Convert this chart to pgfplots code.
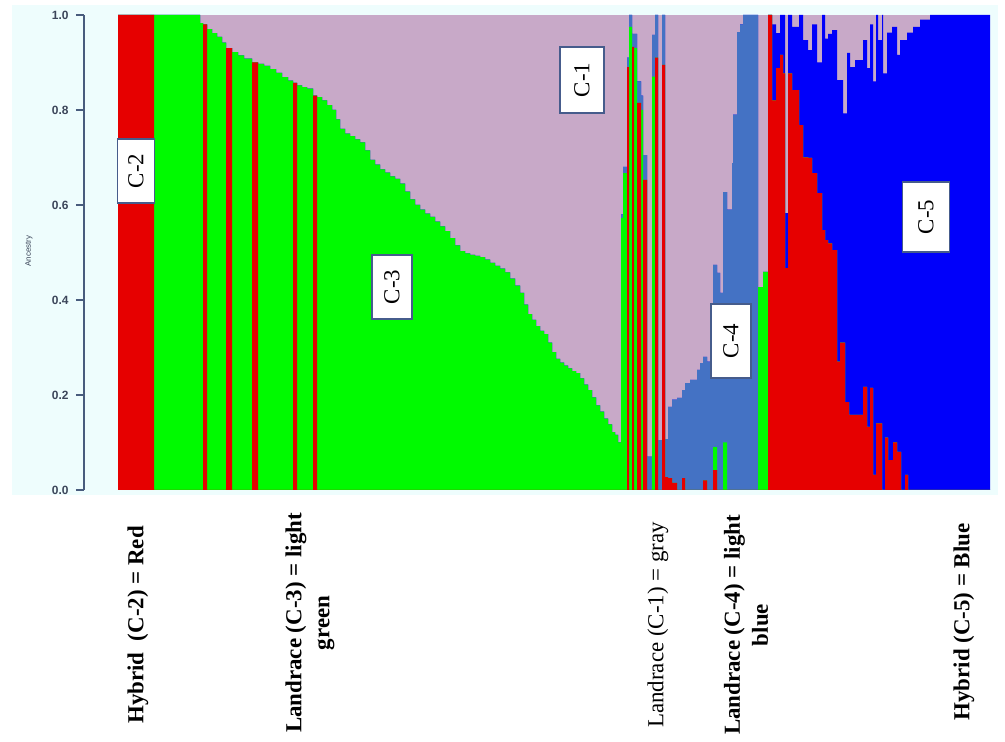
\documentclass[border=0pt]{standalone}
\usepackage{fontspec}
\setmainfont{Liberation Serif}
\newfontfamily\arial{Liberation Sans}
\usepackage{pgfplots}
\usepackage{pgfplotstable}
\pgfplotsset{compat=1.18}
\definecolor{cred}{RGB}{230,0,0}
\definecolor{cgreen}{RGB}{0,250,0}
\definecolor{cgray}{RGB}{200,169,200}
\definecolor{csteel}{RGB}{68,114,196}
\definecolor{cblue}{RGB}{0,0,250}
\definecolor{bgcyan}{RGB}{238,253,253}
\definecolor{axcol}{RGB}{72,92,125}
\definecolor{tickcol}{RGB}{60,70,90}
\definecolor{boxcol}{RGB}{70,92,140}

\pgfplotstableread{
x r g s b
118 1 0 0 0
154 0 1 0 0
200 0 0.983 0 0
203 0.98 0 0 0
207 0 0.97 0 0
212 0 0.962 0 0
217 0 0.954 0 0
222 0 0.942 0 0
226 0.93 0 0 0
232 0 0.922 0 0
238 0 0.915 0 0
244 0 0.908 0 0
252 0.90 0 0 0
258 0 0.897 0 0
264 0 0.893 0 0
270 0 0.886 0 0
276 0 0.878 0 0
282 0 0.869 0 0
288 0 0.862 0 0
293 0.857 0 0 0
297 0 0.852 0 0
302 0 0.848 0 0
307 0 0.845 0 0
313 0.83 0 0 0
317 0 0.827 0 0
322 0 0.82 0 0
327 0 0.81 0 0
332 0 0.80 0 0
336 0 0.78 0 0
340 0 0.76 0 0
345 0 0.75 0 0
350 0 0.745 0 0
355 0 0.738 0 0
360 0 0.732 0 0
365 0 0.715 0 0
370 0 0.695 0 0
375 0 0.685 0 0
380 0 0.675 0 0
385 0 0.668 0 0
390 0 0.66 0 0
395 0 0.655 0 0
400 0 0.645 0 0
405 0 0.628 0 0
410 0 0.612 0 0
415 0 0.60 0 0
420 0 0.59 0 0
425 0 0.582 0 0
430 0 0.575 0 0
435 0 0.565 0 0
440 0 0.555 0 0
445 0 0.545 0 0
450 0 0.53 0 0
455 0 0.515 0 0
460 0 0.503 0 0
465 0 0.498 0 0
470 0 0.495 0 0
475 0 0.493 0 0
480 0 0.49 0 0
485 0 0.485 0 0
490 0 0.478 0 0
495 0 0.472 0 0
500 0 0.466 0 0
505 0 0.458 0 0
510 0 0.445 0 0
515 0 0.43 0 0
520 0 0.415 0 0
524 0 0.39 0 0
528 0 0.37 0 0
532 0 0.358 0 0
536 0 0.345 0 0
540 0 0.335 0 0
544 0 0.328 0 0
548 0 0.31 0 0
552 0 0.29 0 0
556 0 0.276 0 0
560 0 0.268 0 0
564 0 0.262 0 0
568 0 0.256 0 0
572 0 0.25 0 0
576 0 0.246 0 0
580 0 0.235 0 0
584 0 0.222 0 0
588 0 0.21 0 0
592 0 0.195 0 0
596 0 0.178 0 0
600 0 0.165 0 0
604 0 0.15 0 0
608 0 0.138 0 0
612 0 0.122 0 0
615 0 0.116 0 0
618 0 0.10 0 0
621 0 0.573 0.007 0
623 0 0.667 0.013 0
627 0.89 0 0.02 0
629 0 0.975 0.025 0
632 0.933 0 0.027 0
634 0 0.93 0.03 0
637 0.815 0 0.045 0
641 0 0.80 0.03 0
643 0.653 0 0.052 0
647 0 0 0.07 0
652 0 0.87 0.088 0
655 0.91 0 0.09 0
658 0 0 0.105 0
662 0.895 0 0.105 0
665 0.027 0 0.08 0
668 0.025 0 0.15 0
672 0.015 0 0.175 0
677 0 0 0.194 0
682 0.025 0 0.185 0
685 0 0 0.225 0
690 0 0 0.232 0
697 0 0 0.253 0
700 0 0 0.267 0
703 0.02 0 0.26 0
707 0 0 0.27 0
710 0 0 0.28 0
713 0.042 0.048 0.384 0
717 0 0 0.457 0
720 0 0 0.415 0
723 0 0.1 0.527 0
727 0 0 0.59 0
732 0 0 0.688 0
733 0 0 0.79 0
737 0 0 0.964 0
740 0 0 0.98 0
743 0 0 1 0
758 0 0.427 0 0
763 0 0.459 0 0
768 1 0 0 0
772 0.82 0 0 0.16
776 0.888 0 0 0.074
780 0.916 0 0 0.084
783 0.877 0 0 0.123
785 0.467 0 0 0.116
788 0.877 0 0 0.123
792 0.842 0 0 0.133
799 0.768 0 0 0.232
803 0.70 0 0 0.247
808 0.699 0 0 0.227
812 0.667 0 0 0.313
817 0.625 0 0 0.275
822 0.547 0 0 0.453
825 0.526 0 0 0.424
828 0.519 0 0 0.441
832 0.505 0 0 0.463
837 0.27 0 0 0.593
840 0.31 0 0 0.553
843 0.31 0 0 0.483
845 0.185 0 0 0.608
847 0.185 0 0 0.735
849 0.158 0 0 0.762
850 0.158 0 0 0.732
855 0.158 0 0 0.747
863 0.217 0 0 0.73
867 0.133 0 0 0.755
870 0.215 0 0 0.765
873 0.032 0 0 0.828
876 0.14 0 0 0.86
878 0.14 0 0 0.807
882 0 0 0 1
883 0 0 0 0.877
885 0.11 0 0 0.767
887 0.11 0 0 0.853
888 0.063 0 0 0.9
892 0.063 0 0 0.912
893 0.1 0 0 0.875
897 0.08 0 0 0.836
900 0.08 0 0 0.867
901 0 0 0 0.947
905 0.032 0 0 0.915
907 0.032 0 0 0.931
908 0 0 0 0.963
913 0 0 0 0.975
920 0 0 0 0.99
930 0 0 0 1
990 0 0 0 1
}\anc

\begin{document}
\begin{tikzpicture}[x=1bp,y=1bp]
\path[use as bounding box] (0,-252) rectangle (1005,490);
\fill[bgcyan] (12,-5) rectangle (998,485);
\begin{axis}[
  x=1bp, y=475bp,
  anchor=south west, at={(118,0)},
  xmin=118, xmax=990, ymin=0, ymax=1,
  axis x line=none,
  axis y line*=left,
  axis y line shift=34bp,
  y axis line style={-, draw=axcol, line width=1.3bp},
  ytick={0,0.2,0.4,0.6,0.8,1},
  ytick style={draw=axcol, line width=1.3bp},
  tick align=outside,
  major tick length=8bp,
  yticklabel style={font=\arial\bfseries\fontsize{12}{14}\selectfont, text=tickcol, xshift=-4bp,
    /pgf/number format/fixed, /pgf/number format/fixed zerofill,
    /pgf/number format/precision=1, /pgf/number format/assume math mode=true},
  axis background/.style={fill=cgray},
]
\addplot[fill=cblue, draw=none, const plot mark left] table[x=x, y expr=\thisrow{r}+\thisrow{g}+\thisrow{s}+\thisrow{b}]{\anc} \closedcycle;
\addplot[fill=csteel, draw=none, const plot mark left] table[x=x, y expr=\thisrow{r}+\thisrow{g}+\thisrow{s}]{\anc} \closedcycle;
\addplot[fill=cgreen, draw=none, const plot mark left] table[x=x, y expr=\thisrow{r}+\thisrow{g}]{\anc} \closedcycle;
\addplot[fill=cred, draw=none, const plot mark left] table[x=x, y=r]{\anc} \closedcycle;
\end{axis}
\node[rotate=90, font=\arial\fontsize{8}{9}\selectfont, text=tickcol] at (29,239) {Ancestry};
\tikzset{cbox/.style={draw=boxcol, line width=1.3bp, fill=white, rotate=90, inner sep=1bp, font=\fontsize{23}{26}\selectfont}}
\node[cbox, minimum width=64bp, minimum height=37bp] at (136,319) {C-2};
\node[cbox, minimum width=66bp, minimum height=44bp] at (582,410) {C-1};
\node[cbox, minimum width=64bp, minimum height=40bp] at (392,203) {C-3};
\node[cbox, minimum width=74bp, minimum height=40bp] at (731,149) {C-4};
\node[cbox, minimum width=70bp, minimum height=47bp] at (926,273) {C-5};
\tikzset{blab/.style={rotate=90, font=\bfseries\fontsize{23}{28}\selectfont, align=center, inner sep=0pt}}
\node[blab] at (138,-135) {Hybrid\ \ (C-2) = Red};
\node[blab] at (310,-133) {Landrace (C-3) = light\\green};
\node[blab, font=\fontsize{23}{28}\selectfont] at (658,-135) {Landrace (C-1) = gray};
\node[blab] at (746,-135) {Landrace (C-4) = light\\blue};
\node[blab] at (964,-132) {Hybrid (C-5) = Blue};
\end{tikzpicture}
\end{document}
